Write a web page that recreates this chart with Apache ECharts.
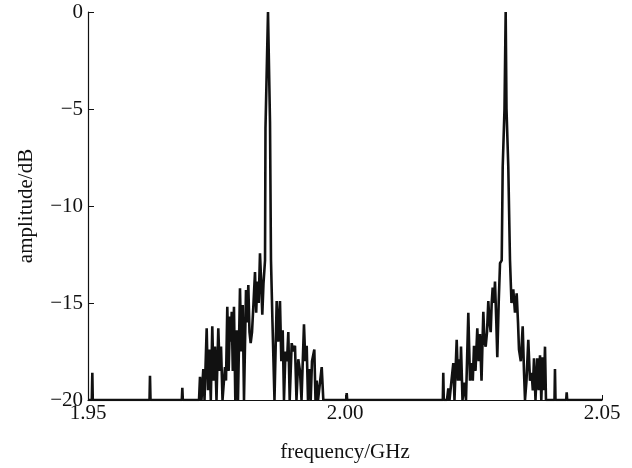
<!DOCTYPE html>
<html>
<head>
<meta charset="utf-8">
<script src="https://cdn.jsdelivr.net/npm/echarts@6/dist/echarts.min.js"></script>
<style>html,body{margin:0;padding:0;background:#fff}#c{width:632px;height:468px}</style>
</head>
<body>
<div id="c"></div>
<script>
// frequency (GHz)
var freq = [
1.95000,1.95074,1.95084,1.95093,1.96197,1.96206,1.96216,1.96825,1.96835,1.96845,
1.97160,1.97179,1.97208,1.97243,1.97267,1.97309,1.97335,1.97360,1.97389,1.97418,
1.97442,1.97471,1.97500,1.97535,1.97562,1.97588,1.97617,1.97665,1.97685,1.97710,
1.97737,1.97763,1.97782,1.97796,1.97817,1.97840,1.97866,1.97893,1.97918,1.97957,
1.97982,1.98010,1.98035,1.98074,1.98097,1.98119,1.98142,1.98165,1.98191,1.98220,
1.98249,1.98272,1.98294,1.98321,1.98346,1.98370,1.98391,1.98414,1.98444,1.98453,
1.98502,1.98541,1.98560,1.98589,1.98628,1.98671,1.98700,1.98735,1.98761,1.98788,
1.98813,1.98842,1.98872,1.98897,1.98924,1.98963,1.98994,1.99027,1.99056,1.99091,
1.99124,1.99154,1.99202,1.99228,1.99255,1.99280,1.99305,1.99333,1.99358,1.99403,
1.99426,1.99449,1.99475,1.99547,1.99578,2.00023,2.00033,2.00043,
2.01903,2.01912,2.01922,2.01984,2.02010,2.02033,2.02062,2.02107,2.02130,2.02173,
2.02198,2.02224,2.02241,2.02257,2.02286,2.02321,2.02354,2.02399,2.02432,2.02465,
2.02486,2.02510,2.02539,2.02574,2.02601,2.02626,2.02656,2.02691,2.02714,2.02737,
2.02763,2.02788,2.02811,2.02835,2.02854,2.02873,2.02899,2.02918,2.02944,2.02963,
2.02990,2.03016,2.03049,2.03068,2.03103,2.03126,2.03142,2.03177,2.03210,2.03239,
2.03274,2.03307,2.03340,2.03366,2.03385,2.03420,2.03457,2.03482,2.03502,2.03531,
2.03566,2.03599,2.03632,2.03654,2.03677,2.03706,2.03741,2.03768,2.03794,2.03819,
2.03846,2.03868,2.03891,2.03910,2.04076,2.04085,2.04095,2.04303,2.04313,2.04323,
2.05000
];
// amplitude (dB)
var amp = [
-20,-20,-18.6,-20,-20,-18.75,-20,-20,-19.37,-20,
-20,-18.8,-20,-18.4,-20,-16.3,-19.5,-17.4,-20,-16.2,
-19,-17.25,-20,-16.3,-18.5,-17.25,-20,-18.3,-19,-15.2,
-18.5,-15.7,-17,-15.45,-18.5,-15.2,-20,-16.4,-20,-14.24,
-17.5,-15.1,-20,-14.33,-16,-14.07,-16.5,-17.07,-16.5,-15,
-13.4,-15.5,-13.9,-15,-12.44,-14,-15.6,-14,-12.8,-6,
0,-5.7,-12.8,-16,-20,-14.9,-17,-14.9,-18,-16.4,
-20,-17.5,-18,-16.5,-20,-17.07,-17.5,-17.2,-20,-17.9,
-18.5,-20,-16.1,-18,-17.2,-20,-18.4,-20,-18,-17.4,
-20,-19,-20,-18.3,-20,-20,-19.65,-20,
-20,-18.6,-20,-20,-19.4,-20,-20,-18.1,-20,-16.9,
-19,-17.9,-19,-17.25,-20,-19.1,-20,-15.5,-19,-18.1,
-19,-17.2,-18.5,-16.3,-18,-16.6,-19,-15.45,-17,-17.25,
-16.5,-14.9,-16,-16.5,-15,-14.2,-15,-13.9,-16,-17.8,
-15,-12.95,-12.8,-8,-5,0,-5,-8,-12.8,-15,
-14.3,-15.5,-14.5,-16,-17.4,-18,-16.2,-18.5,-20,-19,
-16.9,-19,-18.6,-19.5,-17.85,-20,-17.85,-19.5,-17.7,-20,
-17.8,-19.5,-17.25,-20,-20,-18.4,-20,-20,-19.6,-20,
-20
];
var xTicks = [1.95, 2.00, 2.05];
var yTicks = [0, -5, -10, -15, -20];

var data = freq.map(function(f, i){ return [f, amp[i]]; });
var chart = echarts.init(document.getElementById('c'), null, {renderer: 'canvas'});
var font = 'Liberation Serif';
chart.setOption({
  animation: false,
  backgroundColor: '#fff',
  grid: {left: 88, right: 30, top: 12, bottom: 68, containLabel: false},
  xAxis: {
    type: 'value', min: xTicks[0], max: xTicks[xTicks.length-1], interval: 0.05,
    name: 'frequency/GHz', nameLocation: 'middle', nameGap: 42,
    nameTextStyle: {fontFamily: font, fontSize: 21, color: '#111'},
    axisLine: {show: true, onZero: false, lineStyle: {color: '#111', width: 1.2}},
    axisTick: {show: true, inside: true, length: 5, lineStyle: {color: '#111'}},
    splitLine: {show: false},
    axisLabel: {fontFamily: font, fontSize: 21, color: '#111', margin: 3,
      formatter: function(v){ return v.toFixed(2); }}
  },
  yAxis: {
    type: 'value', min: yTicks[yTicks.length-1], max: yTicks[0], interval: 5,
    name: 'amplitude/dB', nameLocation: 'middle', nameGap: 51,
    nameTextStyle: {fontFamily: font, fontSize: 21, color: '#111'},
    axisLine: {show: true, onZero: false, lineStyle: {color: '#111', width: 1.2}},
    axisTick: {show: true, inside: true, length: 6, lineStyle: {color: '#111'}},
    splitLine: {show: false},
    axisLabel: {fontFamily: font, fontSize: 21, color: '#111', margin: 5,
      formatter: function(v){ return String(v).replace('-', '\u2212'); }}
  },
  series: [{
    type: 'line', data: data, showSymbol: false, symbol: 'none', clip: true,
    lineStyle: {color: '#111', width: 2.6}
  }]
});
</script>
</body>
</html>
